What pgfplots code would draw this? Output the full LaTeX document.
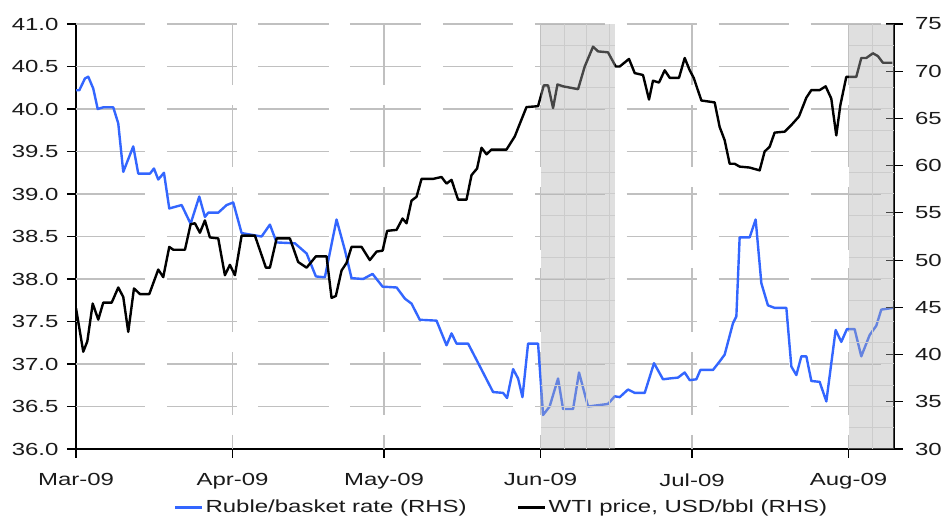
\documentclass[border=0pt]{standalone}
\usepackage{fontspec}
\setmainfont{Liberation Sans}[FakeStretch=1.37]
\usepackage{pgfplots}
\pgfplotsset{compat=1.18}
\usepackage{pgfplotstable}
\definecolor{rubleblue}{RGB}{51,102,255}
\definecolor{gridgray}{RGB}{192,192,192}
\definecolor{shadefill}{RGB}{176,176,176}
\definecolor{shadeline}{RGB}{224,224,224}
\definecolor{txt}{RGB}{26,26,26}
\newcommand\ticksize{\fontsize{17.5bp}{20bp}\selectfont}
\pgfplotsset{
  gridseg/.style={color=gridgray, line width=1.2bp, forget plot},
}

\pgfplotstableread{
day val
0 40.22
0.65 40.22
1.78 40.36
2.43 40.38
3.42 40.24
4.30 40.00
5.40 40.02
7.38 40.02
8.37 39.83
9.36 39.26
11.34 39.56
12.33 39.24
14.65 39.24
15.44 39.30
16.29 39.17
17.42 39.25
18.47 38.83
20.92 38.87
22.70 38.65
24.41 38.97
25.53 38.73
26.19 38.78
28.17 38.78
29.83 38.87
31.14 38.90
32.80 38.54
36.76 38.50
38.40 38.64
39.73 38.43
43.35 38.42
45.67 38.30
47.51 38.03
49.29 38.02
51.60 38.70
53.25 38.34
54.57 38.01
56.87 38.00
58.73 38.06
60.71 37.91
63.50 37.90
65.12 37.77
66.45 37.71
68.09 37.52
71.40 37.51
73.38 37.22
74.37 37.36
75.36 37.24
77.65 37.24
79.31 37.05
82.60 36.67
84.58 36.66
85.37 36.60
86.56 36.94
87.55 36.83
88.42 36.61
89.53 37.24
91.51 37.24
92.50 36.40
93.80 36.50
95.47 36.83
96.46 36.47
98.44 36.47
99.62 36.90
101.41 36.50
105.36 36.53
106.69 36.62
107.68 36.61
109.32 36.70
110.65 36.66
112.63 36.66
114.47 37.01
116.25 36.82
117.58 36.83
119.22 36.84
120.55 36.90
121.54 36.81
122.86 36.82
123.65 36.93
126.15 36.93
127.47 37.03
128.46 37.11
130.11 37.48
130.78 37.56
131.43 38.49
133.41 38.49
134.60 38.70
135.73 37.95
137.03 37.69
138.36 37.66
140.68 37.66
141.67 36.97
142.66 36.87
143.65 37.09
144.64 37.09
145.63 36.80
147.27 36.79
148.60 36.56
150.44 37.40
151.56 37.26
152.67 37.41
154.20 37.41
155.52 37.09
157.17 37.34
158.49 37.45
159.48 37.64
161.78 37.66
}\ruble

\pgfplotstableread{
day val
0 44.9
1.44 40.3
2.24 41.4
3.31 45.4
4.41 43.7
5.40 45.5
7.07 45.5
8.37 47.1
9.36 46.1
10.35 42.4
11.48 47.0
12.67 46.4
14.51 46.4
16.29 49.0
17.28 48.2
18.47 51.4
19.26 51.1
21.58 51.1
22.70 53.8
23.55 53.9
24.54 52.9
25.53 54.2
26.52 52.4
28.17 52.3
29.49 48.4
30.48 49.5
31.47 48.4
32.80 52.6
35.43 52.6
37.61 49.2
38.40 49.2
39.73 52.3
42.36 52.3
44.00 49.8
45.67 49.2
47.51 50.4
49.62 50.4
50.61 46.0
51.46 46.2
52.59 48.9
53.58 49.7
54.57 51.4
56.55 51.4
58.19 50.0
59.52 50.9
60.71 51.0
61.62 53.1
63.48 53.2
64.67 54.4
65.46 53.9
66.45 56.3
67.44 56.7
68.43 58.6
70.72 58.6
72.39 58.8
73.38 58.1
74.37 58.5
75.67 56.4
77.34 56.4
78.33 59.0
79.43 59.7
80.31 61.9
81.30 61.2
82.28 61.7
85.25 61.7
86.90 63.1
89.21 66.2
91.51 66.3
92.64 68.5
93.49 68.5
94.48 66.1
95.35 68.6
96.46 68.4
99.43 68.1
100.75 70.5
102.40 72.6
103.39 72.1
105.36 72.0
106.89 70.5
107.68 70.5
109.52 71.3
110.65 69.8
112.29 69.6
113.48 67.0
114.27 69.0
115.46 68.8
116.59 70.1
117.58 69.3
119.42 69.3
120.55 71.4
121.54 70.1
122.33 69.3
123.85 66.9
126.48 66.7
127.47 64.1
128.46 62.7
129.45 60.2
130.44 60.2
131.43 59.9
133.41 59.8
135.39 59.5
136.38 61.5
137.37 62.0
138.36 63.5
140.34 63.6
141.67 64.3
143.17 65.2
144.64 67.2
145.63 68.0
147.27 68.0
148.46 68.4
149.58 67.1
150.57 63.2
151.37 66.4
152.55 69.4
154.53 69.4
155.52 71.4
156.51 71.4
157.82 71.9
158.81 71.6
159.80 70.9
161.66 70.9
}\wti

\begin{document}
\begin{tikzpicture}
\useasboundingbox (0,0) rectangle (942bp,517bp);
\begin{axis}[
  at={(76bp,68bp)}, anchor=south west,
  scale only axis, width=818bp, height=425bp,
  xmin=0, xmax=162, ymin=36, ymax=41,
  unbounded coords=jump,
  axis x line*=bottom, axis y line*=left,
  axis line style={line width=1.4bp, black},
  xtick={0,31,61,92,122,153},
  xticklabels={Mar-09,Apr-09,May-09,Jun-09,Jul-09,Aug-09},
  ytick={36,36.5,37,37.5,38,38.5,39,39.5,40,40.5,41},
  /pgf/number format/assume math mode=true,
  tick style={line width=1.2bp, black},
  tick align=outside, major tick length=9bp,
  tick label style={font=\ticksize, text=txt},
  yticklabel style={/pgf/number format/fixed, /pgf/number format/fixed zerofill, /pgf/number format/precision=1, xshift=-5bp},
  xticklabel style={yshift=-12bp},
]
\pgfplotsinvokeforeach{36.5,37,37.5,38,38.5,39,39.5,40,40.5,41}{
  \addplot[gridseg] coordinates {(0,#1) (13.66,#1) (14,nan) (18.01,#1) (31.87,#1) (32,nan) (36.03,#1) (50.08,#1) (51,nan) (54.24,#1) (68.29,#1) (69,nan) (72.65,#1) (86.5,#1) (87,nan) (90.86,#1) (104.71,#1) (105,nan) (109.07,#1) (122.92,#1) (123,nan) (127.28,#1) (141.13,#1) (142,nan) (145.49,#1) (159.34,#1)};
}
\pgfplotsinvokeforeach{31,61,92,122,153}{
  \addplot[gridseg] coordinates {(#1,41) (#1,40.282) (#1,nan) (#1,40.047) (#1,39.318) (#1,nan) (#1,39.082) (#1,38.341) (#1,nan) (#1,38.129) (#1,37.376) (#1,nan) (#1,37.141) (#1,36.4) (#1,nan) (#1,36.165) (#1,36)};
}
\addplot[rubleblue, line width=2.4bp, line join=round] table[x=day, y=val] {\ruble};
\end{axis}
\begin{axis}[
  at={(76bp,68bp)}, anchor=south west,
  scale only axis, width=818bp, height=425bp,
  xmin=0, xmax=162, ymin=30, ymax=75,
  axis y line*=right, axis x line=none,
  axis line style={line width=1.4bp, black},
  ytick={30,35,40,45,50,55,60,65,70,75},
  /pgf/number format/assume math mode=true,
  tick style={line width=1.2bp, black},
  tick align=center, major tick length=17bp,
  tick label style={font=\ticksize, text=txt},
  yticklabel style={xshift=9bp},
  legend style={at={(0.52,-0.1365)}, anchor=center, draw=none, fill=none,
    legend columns=2, font=\ticksize, text=txt,
    /tikz/every even column/.append style={column sep=48bp}},
  legend image code/.code={\draw[#1, line width=3bp] (0bp,0bp) -- (27bp,0bp);},
]
\pgfplotsinvokeforeach{1,...,19}{
  \draw[shadeline, line width=1bp] (axis cs:92,{30+2.25*#1}) -- (axis cs:106.7,{30+2.25*#1});
  \draw[shadeline, line width=1bp] (axis cs:153,{30+2.25*#1}) -- (axis cs:162,{30+2.25*#1});
}
\pgfplotsinvokeforeach{96.8,101.1,105.7,157.8}{
  \draw[shadeline, line width=1bp] (axis cs:#1,30) -- (axis cs:#1,75);
}
\addlegendimage{rubleblue, line width=2.4bp}
\addlegendentry{Ruble/basket rate (RHS)}
\addplot[black, line width=2.4bp, line join=round] table[x=day, y=val] {\wti};
\addlegendentry{WTI price, USD/bbl (RHS)}
\addplot[draw=none, fill=shadefill, fill opacity=0.4, forget plot] coordinates {(92,30) (92,75) (106.7,75) (106.7,30)} -- cycle;
\addplot[draw=none, fill=shadefill, fill opacity=0.4, forget plot] coordinates {(153,30) (153,75) (162,75) (162,30)} -- cycle;
\end{axis}
\end{tikzpicture}
\end{document}
